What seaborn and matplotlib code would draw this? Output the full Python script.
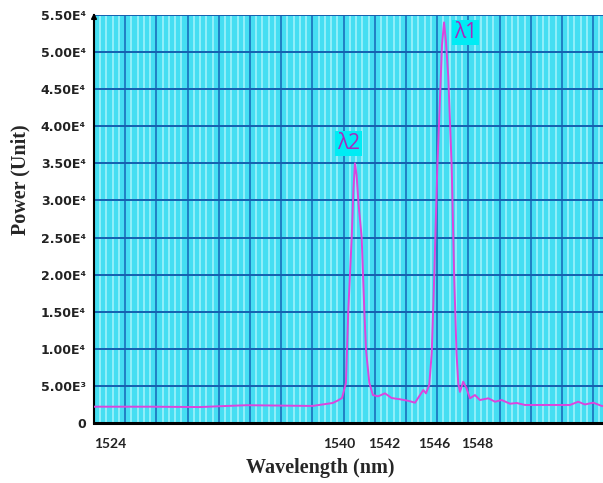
import numpy as np
import pandas as pd
import matplotlib
matplotlib.use('Agg')
import matplotlib.pyplot as plt
import matplotlib.transforms as mtransforms
import seaborn as sns
from matplotlib.ticker import FixedLocator, MultipleLocator

# spectrum
wavelength = [1524.0, 1527.6, 1530.8, 1531.9, 1533.8, 1535.9, 1538.0, 1539.3, 1539.6, 1539.9,
              1540.15, 1540.30, 1540.52, 1540.63, 1540.73, 1540.83, 1540.96, 1541.16, 1541.33, 1541.44,
              1541.65, 1541.88, 1542.21, 1542.65, 1543.08, 1543.62, 1544.13, 1544.58, 1544.90, 1545.11,
              1545.28, 1545.49, 1545.65, 1545.81, 1546.01, 1546.22, 1546.31, 1546.44, 1546.56, 1546.71,
              1546.93, 1547.09, 1547.24, 1547.35, 1547.46, 1547.67, 1547.88, 1548.10, 1548.42, 1548.74,
              1549.28, 1549.71, 1550.13, 1550.67, 1551.10, 1551.63, 1552.14, 1553.23, 1554.51, 1555.04,
              1555.47, 1556.01, 1556.55, 1556.63]
power = [2200, 2200, 2150, 2250, 2400, 2350, 2300, 2700, 3000, 3370,
         5400, 15100, 25000, 31500, 35000, 33500, 29500, 25000, 15100, 9800,
         5400, 3770, 3600, 4000, 3370, 3200, 3000, 2740, 3770, 4450,
         4000, 5120, 9400, 19700, 34500, 46000, 51000, 54000, 51500, 46700,
         34500, 19700, 9400, 5350, 4200, 5570, 4680, 3330, 3770, 3100,
         3330, 2870, 3100, 2600, 2700, 2430, 2430, 2430, 2430, 2870,
         2500, 2740, 2300, 2300]

tick_values = [1524, 1540, 1542, 1546, 1548]
tick_texts = ['1524', '1540', '1542', '1546', '1548']
y_values = [0, 5000, 10000, 15000, 20000, 25000, 30000, 35000, 40000, 45000, 50000, 55000]
y_texts = ['0', '5.00E³', '1.00E⁴', '1.50E⁴', '2.00E⁴', '2.50E⁴', '3.00E⁴',
           '3.50E⁴', '4.00E⁴', '4.50E⁴', '5.00E⁴', '5.50E⁴']
peak_names = ['λ1', 'λ2']
peak_x = [1547.8, 1540.3]
peak_y = [52600, 37700]

df = pd.DataFrame({'wavelength': wavelength, 'power': power})

sns.set_style('white')
plt.rcParams['font.family'] = ['DejaVu Sans']

fig = plt.figure(figsize=(6.03, 4.83), dpi=100)
ax = fig.add_axes([0.1559, 0.1242, 0.8441, 0.8447])
ax.set_facecolor('#45def2')

sns.lineplot(data=df, x='wavelength', y='power', ax=ax, color='#dd44dd', linewidth=1.4, zorder=5)

ax.set_xlim(1524, 1556.63)
ax.set_ylim(0, 55000)

major_x = list(range(1524, 1558, 2))
ax.xaxis.set_major_locator(FixedLocator(major_x))
ax.set_xticklabels([tick_texts[tick_values.index(v)] if v in tick_values else '' for v in major_x])
ax.xaxis.set_minor_locator(MultipleLocator(0.4))
ax.set_yticks(y_values)
ax.set_yticklabels(y_texts)

ax.grid(which='minor', axis='x', color='#9ff2fb', linewidth=1.2, zorder=0)
ax.grid(which='major', axis='x', color='#1a70bc', linewidth=1.2, zorder=1)
ax.grid(which='major', axis='y', color='#1560b0', linewidth=1.4, zorder=1)
ax.set_axisbelow(True)

ax.tick_params(axis='x', which='major', length=4, width=1, color='#2a5a8a',
               labelsize=10, pad=7, labelcolor='#222222')
ax.tick_params(axis='x', which='minor', length=0)
ax.tick_params(axis='y', length=0, labelsize=9, pad=6, labelcolor='#222222')
for lab in ax.get_yticklabels():
    lab.set_fontweight('bold')

# small label nudges as in the original figure (points)
nudge = {'1524': 0, '1540': -3, '1542': 7, '1546': -2, '1548': 6}
for lab in ax.get_xticklabels():
    lab.set_fontweight('bold')
    lab.set_family(['Lato', 'DejaVu Sans'])
    t = lab.get_text()
    if t == '1524':
        lab.set_horizontalalignment('left')
    if t in nudge:
        lab.set_transform(lab.get_transform() +
                          mtransforms.ScaledTranslation(nudge[t] / 72, 0, fig.dpi_scale_trans))

for side in ['top', 'right']:
    ax.spines[side].set_visible(False)
ax.spines['left'].set_color('black')
ax.spines['left'].set_linewidth(1.5)
ax.spines['bottom'].set_color('black')
ax.spines['bottom'].set_linewidth(2.2)
ax.annotate('', xy=(0, 1.012), xytext=(0, 0.98), xycoords='axes fraction',
            arrowprops=dict(arrowstyle='-|>', color='black', lw=1.2, mutation_scale=8),
            annotation_clip=False)

for name, x, y in zip(peak_names, peak_x, peak_y):
    ax.text(x, y, name, fontsize=15, color='#a828c0', family=['Open Sans', 'DejaVu Sans'],
            ha='center', va='center', zorder=6,
            bbox=dict(boxstyle='square,pad=0.1', facecolor='#00ecf4', edgecolor='none'))

ax.set_xlabel('Wavelength (nm)', fontsize=14.5, fontweight='bold',
              family=['Liberation Serif', 'DejaVu Serif'])
ax.set_ylabel('Power (Unit)', fontsize=14.5, fontweight='bold',
              family=['Liberation Serif', 'DejaVu Serif'])
ax.xaxis.set_label_coords(0.444, -0.085)
ax.yaxis.set_label_coords(-0.125, 0.596)

fig.savefig('out.png', dpi=100)
